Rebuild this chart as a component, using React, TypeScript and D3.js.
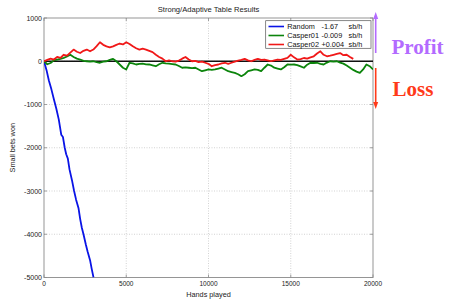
import React from "react";
import * as d3 from "d3";

const randomHands = [0, 150, 300, 450, 600, 750, 900, 1050, 1150, 1260, 1350, 1450, 1550, 1700, 1830, 1950, 2100, 2200, 2300, 2400, 2550, 2650, 2800, 2900, 3010];
const randomVals = [0, -200, -450, -650, -880, -1100, -1350, -1700, -1750, -2000, -2150, -2250, -2500, -2750, -3000, -3200, -3400, -3650, -3850, -4000, -4250, -4400, -4600, -4800, -5000];

const casper01Vals = [0, -70, -40, 20, 40, 55, 80, 110, 150, 100, 60, 40, 10, 0, -10, 0, -20, -35, -10, 0, 30, 55, 0, -75, -150, -190, -35, -50, -75, -60, -55, -70, -75, -95, -115, -70, -35, -50, -55, -65, -75, -110, -150, -140, -150, -160, -150, -190, -230, -210, -190, -200, -190, -170, -150, -190, -230, -250, -270, -300, -345, -300, -230, -210, -190, -200, -230, -150, -75, -100, -150, -170, -190, -140, -75, -80, -75, -90, -120, -150, -80, -35, -40, -35, -60, -75, -30, 0, -10, 0, -30, -55, -100, -150, -200, -240, -270, -190, -75, -115, -190];
const casper02Vals = [0, 30, 60, 40, 100, 80, 150, 130, 200, 270, 220, 190, 240, 270, 230, 270, 350, 440, 380, 345, 320, 345, 380, 410, 390, 440, 400, 345, 300, 270, 290, 270, 240, 210, 150, 100, 60, 0, 20, 0, -10, 15, 60, 100, 40, 0, 10, -20, -10, -35, -60, -115, -90, -75, -50, -35, -60, -35, -10, 15, 30, 55, 20, 0, 30, 55, 30, 40, 20, 0, 20, 40, 30, 55, 80, 150, 90, 40, 50, 75, 60, 90, 115, 180, 230, 150, 115, 130, 150, 170, 190, 140, 150, 100, 55];
const handStep = 200;

const xTicks = [0, 5000, 10000, 15000, 20000];
const yTicks = [1000, 0, -1000, -2000, -3000, -4000, -5000];

const legendNames = ["Random", "Casper01", "Casper02"];
const legendRates = ["-1.67", "-0.009", "+0.004"];
const legendUnit = "sb/h";
const seriesColors = ["#0a14e6", "#0b840b", "#f01818"];

const title = "Strong/Adaptive Table Results";
const xLabel = "Hands played";
const yLabel = "Small bets won";

export default function App() {
  const W = 449, H = 301;
  const left = 44, right = 373, top = 18, bottom = 277.5;
  const x = d3.scaleLinear().domain([0, 20000]).range([left, right]);
  const y = d3.scaleLinear().domain([-5000, 1000]).range([bottom, top]);
  const line = d3.line<[number, number]>().x(d => x(d[0])).y(d => y(d[1]));

  const randomData: [number, number][] = randomHands.map((h, i) => [h, randomVals[i]]);
  const c1Data: [number, number][] = casper01Vals.map((v, i) => [i * handStep, v]);
  const c2Data: [number, number][] = casper02Vals.map((v, i) => [i * handStep, v]);
  const series = [randomData, c1Data, c2Data];

  const font = "Liberation Sans, Arial, sans-serif";
  const arrowX = 375.7;

  return (
    <svg width={W} height={H} style={{ position: "absolute", left: 0, top: 0, background: "#fff" }}>
      <defs>
        <clipPath id="plotclip">
          <rect x={left} y={top} width={right - left} height={bottom - top} />
        </clipPath>
      </defs>
      <rect x={0} y={0} width={W} height={H} fill="#fff" />
      {xTicks.slice(1, -1).map(t => (
        <line key={"gx" + t} x1={x(t)} x2={x(t)} y1={top} y2={bottom} stroke="#c8c8c8" strokeWidth={0.8} strokeDasharray="1,1.5" />
      ))}
      {yTicks.slice(1, -1).map(t => (
        <line key={"gy" + t} x1={left} x2={right} y1={y(t)} y2={y(t)} stroke="#c8c8c8" strokeWidth={0.8} strokeDasharray="1,1.5" />
      ))}
      <rect x={left} y={top} width={right - left} height={bottom - top} fill="none" stroke="#8a8a8a" strokeWidth={0.9} />
      {xTicks.map(t => (
        <g key={"tx" + t}>
          <line x1={x(t)} x2={x(t)} y1={bottom} y2={bottom - 3} stroke="#8a8a8a" strokeWidth={0.8} />
          <line x1={x(t)} x2={x(t)} y1={top} y2={top + 3} stroke="#8a8a8a" strokeWidth={0.8} />
          <text x={x(t)} y={bottom + 8.8} fontSize={6.5} fontFamily={font} textAnchor="middle" fill="#222">{t}</text>
        </g>
      ))}
      {yTicks.map(t => (
        <g key={"ty" + t}>
          <line x1={left} x2={left + 3} y1={y(t)} y2={y(t)} stroke="#8a8a8a" strokeWidth={0.8} />
          <line x1={right} x2={right - 3} y1={y(t)} y2={y(t)} stroke="#8a8a8a" strokeWidth={0.8} />
          <text x={left - 2} y={y(t) + 2.5} fontSize={7} fontFamily={font} textAnchor="end" fill="#222">{t}</text>
        </g>
      ))}
      <line x1={left} x2={right} y1={y(0)} y2={y(0)} stroke="#111" strokeWidth={1.3} />
      <g clipPath="url(#plotclip)">
        {series.map((d, i) => (
          <path key={"s" + i} d={line(d) || ""} fill="none" stroke={seriesColors[i]} strokeWidth={1.8} strokeLinejoin="round" />
        ))}
      </g>
      <rect x={265.7} y={20.7} width={105.3} height={27.6} fill="#fff" stroke="#555" strokeWidth={0.7} />
      {legendNames.map((n, i) => {
        const ly = 26.5 + i * 9;
        return (
          <g key={"lg" + i}>
            <line x1={268.5} x2={284} y1={ly} y2={ly} stroke={seriesColors[i]} strokeWidth={1.6} />
            <text x={287.3} y={ly + 2.6} fontSize={7.3} fontFamily={font} fill="#111">{n}</text>
            <text x={321.5} y={ly + 2.6} fontSize={7.3} fontFamily={font} fill="#111">{legendRates[i]}</text>
            <text x={348.5} y={ly + 2.6} fontSize={7.3} fontFamily={font} fill="#111">{legendUnit}</text>
          </g>
        );
      })}
      <text x={(left + right) / 2} y={11.5} fontSize={7.6} fontFamily={font} textAnchor="middle" fill="#222">{title}</text>
      <text x={(left + right) / 2} y={297} fontSize={7.3} fontFamily={font} textAnchor="middle" fill="#222">{xLabel}</text>
      <text transform={`translate(15,${(top + bottom) / 2}) rotate(-90)`} fontSize={7.3} fontFamily={font} textAnchor="middle" fill="#222">{yLabel}</text>
      <line x1={arrowX} x2={arrowX} y1={17} y2={53} stroke="#b36bff" strokeWidth={1.6} />
      <path d={`M${arrowX - 2.5},${19} L${arrowX},${12} L${arrowX + 2.5},${19} Z`} fill="#b36bff" />
      <line x1={arrowX} x2={arrowX} y1={68} y2={104} stroke="#ff3a1a" strokeWidth={1.6} />
      <path d={`M${arrowX - 2.5},${102} L${arrowX},${109} L${arrowX + 2.5},${102} Z`} fill="#ff3a1a" />
      <text x={391.5} y={54.3} fontSize={21} fontWeight="bold" fontFamily="Liberation Serif, Times New Roman, serif" fill="#b36bff">Profit</text>
      <text x={392.5} y={95.7} fontSize={21} fontWeight="bold" fontFamily="Liberation Serif, Times New Roman, serif" fill="#ff3a1a">Loss</text>
    </svg>
  );
}
